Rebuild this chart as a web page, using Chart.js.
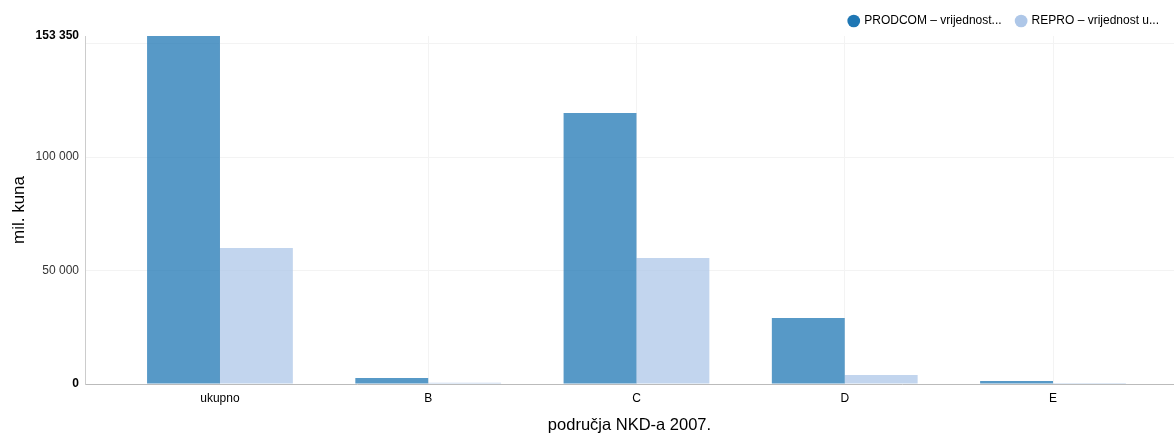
<!DOCTYPE html>
<html>
<head>
<meta charset="utf-8">
<script src="https://cdn.jsdelivr.net/npm/chart.js@4"></script>
<style>
    html, body { margin: 0; padding: 0; background: #fff; }
    #wrap { width: 1174px; height: 434px; }
</style>
</head>
<body>
<div id="wrap"><canvas id="chart" width="1174" height="434"></canvas></div>
<script>
// Data
const categories = ['ukupno', 'B', 'C', 'D', 'E'];
const prodcomValues = [153350, 2600, 119400, 29100, 1300];
const reproValues = [59900, 500, 55500, 4000, 400];
const yTicks = [0, 50000, 100000, 150000, 153350];
const yLabelled = [0, 50000, 100000, 153350];

const seriesNames = ['PRODCOM – vrijednost...', 'REPRO – vrijednost u...'];
const legendColors = ['#1f77b4', '#aec7e8'];
const barColors = ['rgba(31,119,180,0.75)', 'rgba(174,199,232,0.75)'];

Chart.defaults.font.family = '"Liberation Sans", Arial, sans-serif';
Chart.defaults.color = '#333';

function formatNum(v) {
    return String(Math.round(v)).replace(/\B(?=(\d{3})+(?!\d))/g, ' ');
}

function isBound(ctx) {
    return !!ctx.tick && (ctx.tick.value === 0 || ctx.tick.value === 153350);
}

// keep legend height fixed so the plot top lands where the reference has it
const legendHeight = {
    id: 'legendHeight',
    beforeInit(chart) {
        const fit = chart.legend.fit;
        chart.legend.fit = function () {
            fit.bind(chart.legend)();
            this.height = 36;
        };
    }
};

new Chart(document.getElementById('chart'), {
    type: 'bar',
    data: {
        datasets: [
            {
                label: seriesNames[0],
                data: categories.map((c, i) => ({ x: i, y: prodcomValues[i] })),
                backgroundColor: barColors[0],
                borderWidth: 0
            },
            {
                label: seriesNames[1],
                data: categories.map((c, i) => ({ x: i, y: reproValues[i] })),
                backgroundColor: barColors[1],
                borderWidth: 0
            }
        ]
    },
    options: {
        responsive: false,
        animation: false,
        layout: { padding: 0 },
        categoryPercentage: 0.7,
        barPercentage: 1,
        plugins: {
            legend: {
                position: 'top',
                align: 'end',
                labels: {
                    usePointStyle: true,
                    pointStyle: 'circle',
                    boxWidth: 9,
                    boxHeight: 9,
                    padding: 15,
                    color: '#000',
                    font: { size: 12 },
                    generateLabels: chart => chart.data.datasets.map((d, i) => ({
                        text: d.label,
                        fillStyle: legendColors[i],
                        strokeStyle: legendColors[i],
                        lineWidth: 0,
                        pointStyle: 'circle',
                        datasetIndex: i,
                        fontColor: '#000'
                    }))
                }
            },
            tooltip: { enabled: false }
        },
        scales: {
            x: {
                type: 'linear',
                offset: false,
                min: -0.648,
                max: 4.581,
                afterFit: scale => { scale.height = 50; },
                afterBuildTicks: scale => {
                    scale.ticks = categories.map((c, i) => ({ value: i }));
                },
                ticks: {
                    callback: v => categories[v],
                    color: '#000',
                    font: { size: 12 },
                    maxRotation: 0,
                    autoSkip: false,
                    padding: 7
                },
                grid: {
                    offset: false,
                    color: '#f3f3f3',
                    drawTicks: false
                },
                border: { color: '#bbb', width: 1 },
                title: {
                    display: true,
                    text: 'područja NKD-a 2007.',
                    color: '#000',
                    font: { size: 16.5 },
                    padding: { top: 10, bottom: -1 }
                }
            },
            y: {
                min: 0,
                max: 153350,
                afterFit: scale => { scale.width = 85; },
                afterBuildTicks: scale => {
                    scale.ticks = yTicks.map(v => ({ value: v }));
                },
                ticks: {
                    callback: v => yLabelled.includes(v) ? formatNum(v) : '',
                    color: ctx => isBound(ctx) ? '#000' : '#333',
                    font: ctx => ({ size: 12, weight: isBound(ctx) ? 'bold' : 'normal' }),
                    autoSkip: false,
                    padding: 6
                },
                grid: {
                    color: ctx => (ctx.tick && ctx.tick.value === 153350) ? 'rgba(0,0,0,0)' : '#f3f3f3',
                    drawTicks: false
                },
                border: { color: '#ccc', width: 1 },
                title: {
                    display: true,
                    text: 'mil. kuna',
                    color: '#000',
                    font: { size: 17 },
                    padding: { top: 9, bottom: 0 }
                }
            }
        }
    },
    plugins: [legendHeight]
});
</script>
</body>
</html>
